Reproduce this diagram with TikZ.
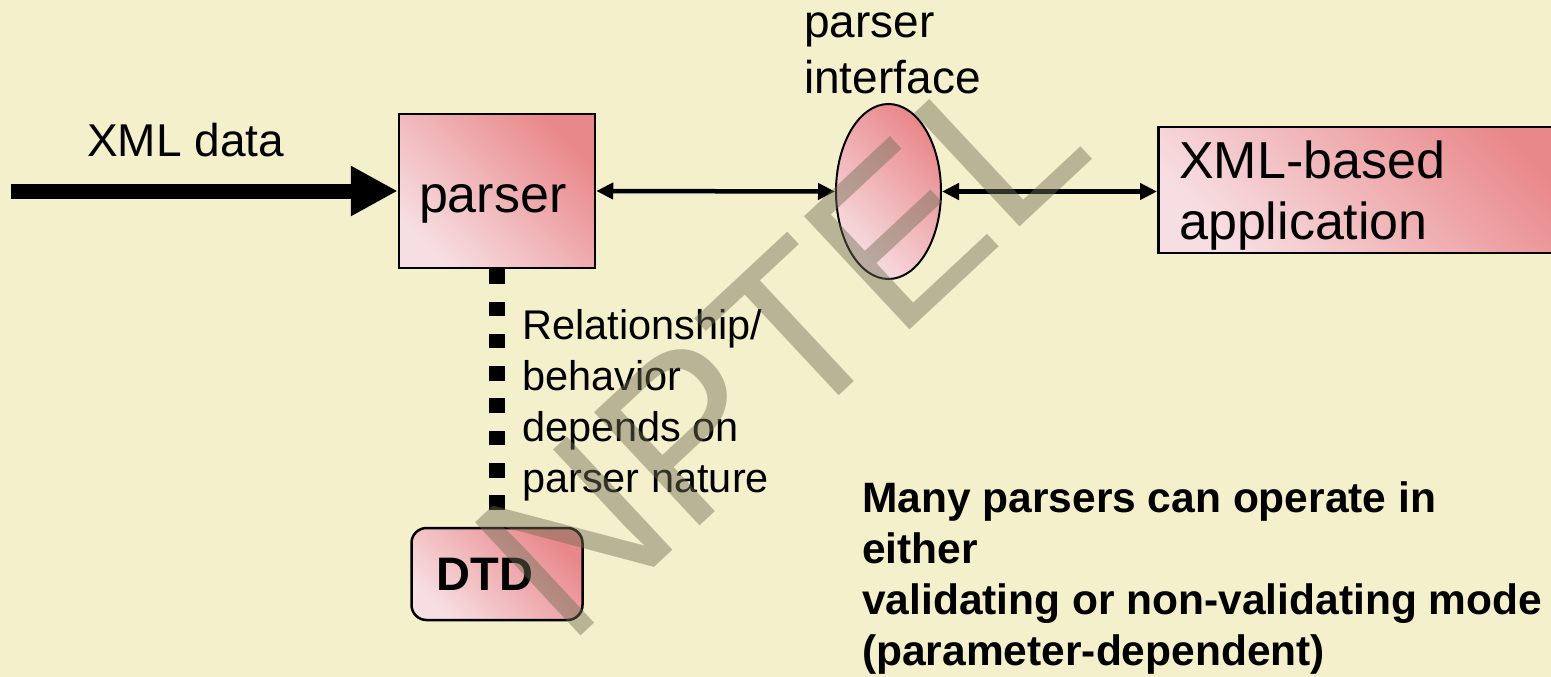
\documentclass[tikz,border=0pt]{standalone}
\usepackage{fontspec}
\setmainfont{Liberation Sans}
\usepackage{xcolor}
\usepackage{tikz}
\usetikzlibrary{arrows.meta,positioning,calc,shapes.geometric}

\definecolor{slidebg}{RGB}{245,240,204}
\definecolor{pinkdark}{RGB}{233,136,138}
\definecolor{pinklight}{RGB}{247,222,226}
\definecolor{wmgray}{RGB}{110,109,84}

\tikzset{
  pinkfill/.style={top color=pinkdark,bottom color=pinklight,shading angle=-45},
  blockbox/.style={draw=black,line width=2.5pt,pinkfill,inner sep=0pt},
  txt/.style={anchor=base west,align=left,inner sep=0pt},
  twoway/.style={line width=4.5pt,{Triangle[length=17pt,width=16pt]}-{Triangle[length=17pt,width=16pt]}},
}

\begin{document}
\begin{tikzpicture}[x=1pt,y=-1pt]
  \fill[slidebg] (0,0) rectangle (1551,677);
  \useasboundingbox (0,0) rectangle (1551,677);
  \clip (0,0) rectangle (1551,677);
  % blocks
  \node[blockbox,minimum width=196pt,minimum height=154pt,text width=156pt,inner xsep=20pt,
        align=left,text height=42pt,text depth=0pt,font=\fontsize{52}{62}\selectfont] (parser) at (497,191) {parser};
  \node[draw=black,line width=2pt,pinkfill,ellipse,inner sep=0pt,minimum width=105pt,minimum height=175pt] (iface) at (888.5,191.5) {};
  \node[blockbox,anchor=west,minimum height=126pt,text width=380pt,inner xsep=21pt,align=left,
        text height=38pt,text depth=62pt,font=\fontsize{52}{62}\selectfont] (app) at (1157,190) {XML-based\\application};
  \node[blockbox,rounded corners=15pt,minimum width=171pt,minimum height=92pt,text width=121pt,inner xsep=25pt,
        align=left,font=\bfseries\fontsize{47}{56}\selectfont] (dtd) at (497,574) {DTD};
  % connectors
  \coordinate (feed) at (11,191);
  \draw[line width=15pt,-{Triangle[length=47pt,width=47pt]}] (feed) -- (parser.west);
  \draw[twoway] (parser.east) -- (iface.west);
  \draw[twoway] (iface.east) -- (app.west |- iface.east);
  \draw[line width=16pt,dash pattern=on 14.5pt off 17.8pt] (parser.south) -- (dtd.north);
  % labels (base = last line)
  \node[txt,font=\fontsize{46}{57}\selectfont] (xmldata) at (87,156) {XML data};
  \node[txt,font=\fontsize{46}{57}\selectfont] (ifacelbl) at (804,94) {parser\\interface};
  \node[txt,font=\fontsize{41.5}{50.7}\selectfont] (relnote) at (522,492) {Relationship/\\behavior\\depends on\\parser nature};
  \node[txt,font=\bfseries\fontsize{42.5}{50.7}\selectfont] (modenote) at (862,665)
    {Many parsers can operate in\\either\\validating or non-validating mode\\(parameter-dependent)};
  % watermark
  \node[rotate=43,text=wmgray,opacity=.45,inner sep=0pt,font=\fontsize{225}{225}\selectfont] (wmark) at (780,345) {NPTEL};
\end{tikzpicture}
\end{document}
